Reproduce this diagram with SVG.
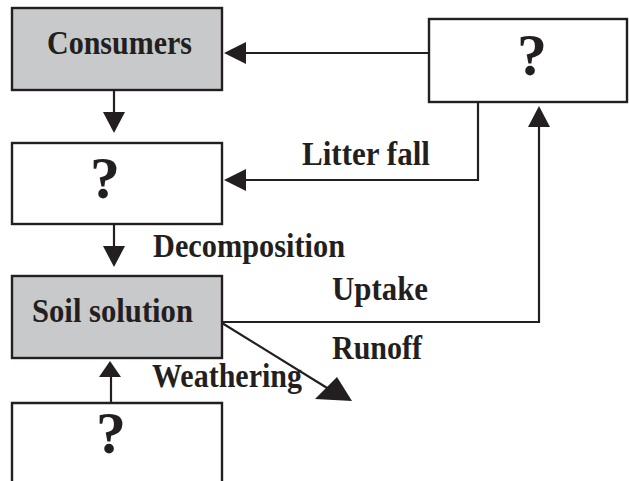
<svg xmlns="http://www.w3.org/2000/svg" width="629" height="481" viewBox="0 0 629 481">
  <style>
    .box { fill: #ffffff; stroke: #231f20; stroke-width: 2.4; }
    .shaded { fill: #c8c9cb; }
    .line { fill: none; stroke: #231f20; stroke-width: 2.2; }
    .head { fill: #231f20; stroke: none; }
    .lbl { font-family: "Liberation Serif", "Times New Roman", serif; font-weight: bold; fill: #231f20; }
    .t { font-size: 33px; }
    .q { font-size: 60px; text-anchor: middle; }
  </style>
  <rect width="629" height="481" fill="#ffffff"/>

  <g id="consumers">
    <rect class="box shaded" x="12" y="8" width="210" height="82"/>
    <text class="lbl t" x="47" y="54" textLength="145" lengthAdjust="spacingAndGlyphs">Consumers</text>
  </g>

  <g id="producers">
    <rect class="box" x="429" y="19" width="198" height="83"/>
    <text class="lbl q" x="532" y="75">?</text>
  </g>

  <g id="litter">
    <rect class="box" x="12" y="143" width="210" height="81"/>
    <text class="lbl q" x="105" y="198">?</text>
  </g>

  <g id="soil-solution">
    <rect class="box shaded" x="12" y="276" width="210" height="82"/>
    <text class="lbl t" x="32" y="322" textLength="161" lengthAdjust="spacingAndGlyphs">Soil solution</text>
  </g>

  <g id="minerals">
    <path class="line" d="M12,500 V403 H222 V500" style="stroke-width:2.4"/>
    <text class="lbl q" x="111" y="453">?</text>
  </g>

  <g id="connectors">
    <!-- herbivory: producers to consumers -->
    <path class="line" d="M429,53 H242"/>
    <polygon class="head" points="224,53 246,42 246,64"/>
    <!-- consumers to litter -->
    <path class="line" d="M114,90 V115"/>
    <polygon class="head" points="114,133 103,112 125,112"/>
    <!-- litter fall -->
    <path class="line" d="M478,102 V180 H242"/>
    <polygon class="head" points="224,180 246,169 246,191"/>
    <!-- decomposition -->
    <path class="line" d="M114,224 V250"/>
    <polygon class="head" points="114,267 103,246 125,246"/>
    <!-- uptake -->
    <path class="line" d="M221,322 H539 V124"/>
    <polygon class="head" points="539,106 528,127 550,127"/>
    <!-- weathering -->
    <path class="line" d="M111,403 V375"/>
    <polygon class="head" points="110,361 99,377 121,377"/>
    <!-- runoff -->
    <path class="line" d="M222,323 L332,391"/>
    <polygon class="head" points="315,399 352,401 337,377"/>
  </g>

  <g id="labels">
    <text class="lbl t" x="302" y="165" textLength="128" lengthAdjust="spacingAndGlyphs">Litter fall</text>
    <text class="lbl t" x="153" y="257" textLength="192" lengthAdjust="spacingAndGlyphs">Decomposition</text>
    <text class="lbl t" x="332" y="300" textLength="96" lengthAdjust="spacingAndGlyphs">Uptake</text>
    <text class="lbl t" x="332" y="359" textLength="90" lengthAdjust="spacingAndGlyphs">Runoff</text>
    <text class="lbl t" x="152" y="387" textLength="150" lengthAdjust="spacingAndGlyphs">Weathering</text>
  </g>
</svg>
